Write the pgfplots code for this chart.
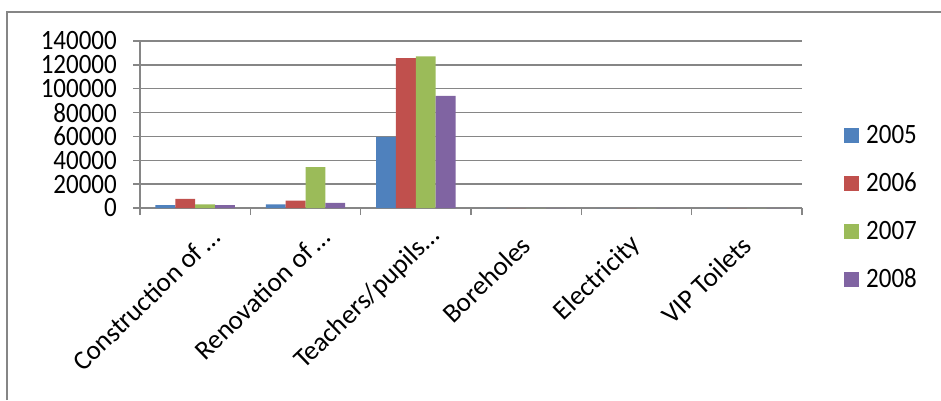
\documentclass[border=0pt]{standalone}
\usepackage{fontspec}
\setmainfont{Carlito}
\usepackage{pgfplots}
\pgfplotsset{compat=1.18}
\definecolor{c1}{HTML}{4F81BD}
\definecolor{c2}{HTML}{C0504D}
\definecolor{c3}{HTML}{9BBB59}
\definecolor{c4}{HTML}{8064A2}
\definecolor{gridc}{HTML}{868686}
\newcommand{\ellab}[1]{\raisebox{-7.8pt}[\height][\depth]{#1}\hspace*{-20.5pt}}
\newcommand{\tall}[1]{\scalebox{1}[1.12]{#1}}
\begin{document}
\begin{tikzpicture}[font=\fontsize{25pt}{25pt}\selectfont]
\useasboundingbox (0,0) rectangle (941pt,400pt);
\draw[gridc, line width=2pt] (7pt,0) -- (7pt,388pt) -- (942pt,388pt);
\begin{axis}[
  at={(140pt,192pt)}, anchor=south west,
  scale only axis, width=662pt, height=167pt,
  xmin=-0.5, xmax=5.5, ymin=0, ymax=140000,
  ytick={0,20000,40000,60000,80000,100000,120000,140000},
  scaled y ticks=false,
  /pgf/number format/.cd, fixed, precision=0, 1000 sep={}, assume math mode=true, /pgfplots/.cd,
  yticklabel={\tall{\pgfmathprintnumber{\tick}}},
  axis x line*=bottom, axis y line*=left,
  axis line style={gridc, line width=1.5pt, -},
  tick align=outside,
  major tick length=7pt, minor tick length=7pt,
  tick style={gridc, line width=1.5pt},
  major x tick style={draw=none},
  ymajorgrids, grid style={gridc, line width=1.5pt},
  xtick={0,1,2,3,4,5},
  minor xtick={-0.5,0.5,1.5,2.5,3.5,4.5,5.5},
  xticklabels={\ellab{Construction of\,…},\ellab{Renovation of\,…},\ellab{Teachers/pupils…},Boreholes,Electricity,VIP Toilets},
  tick label style={font=\fontsize{25pt}{25pt}\selectfont},
  xticklabel style={yshift=-26pt, rotate=44, anchor=east, inner sep=0pt, font=\fontsize{27pt}{27pt}\selectfont},
  yticklabel style={inner sep=0pt, xshift=-16pt},
  legend style={at={(1.0634,0.481)}, anchor=north west, draw=none, fill=none,
    font=\fontsize{25pt}{25pt}\selectfont, row sep=32pt, inner sep=0pt,
    nodes={inner sep=0pt, text height=16pt, text depth=0pt}},
  legend cell align=left,
  ybar, bar width=0.18,
]
\addplot[ybar, bar shift=-0.27, fill=c1, draw=none, legend image code/.code={\fill[c1] (0pt,-7.5pt) rectangle (15pt,7.5pt); \path (22pt,0pt);}] coordinates {(0,2500) (1,3100) (2,59600) (3,0) (4,0) (5,0)};
\addplot[ybar, bar shift=-0.09, fill=c2, draw=none, legend image code/.code={\fill[c2] (0pt,-7.5pt) rectangle (15pt,7.5pt); \path (22pt,0pt);}] coordinates {(0,7600) (1,6200) (2,125700) (3,0) (4,0) (5,0)};
\addplot[ybar, bar shift=0.09, fill=c3, draw=none, legend image code/.code={\fill[c3] (0pt,-7.5pt) rectangle (15pt,7.5pt); \path (22pt,0pt);}] coordinates {(0,3100) (1,34200) (2,127100) (3,0) (4,0) (5,0)};
\addplot[ybar, bar shift=0.27, fill=c4, draw=none, legend image code/.code={\fill[c4] (0pt,-7.5pt) rectangle (15pt,7.5pt); \path (22pt,0pt);}] coordinates {(0,2500) (1,4200) (2,94100) (3,0) (4,0) (5,0)};
\legend{\tall{2005},\tall{2006},\tall{2007},\tall{2008}}
\end{axis}
\end{tikzpicture}
\end{document}
